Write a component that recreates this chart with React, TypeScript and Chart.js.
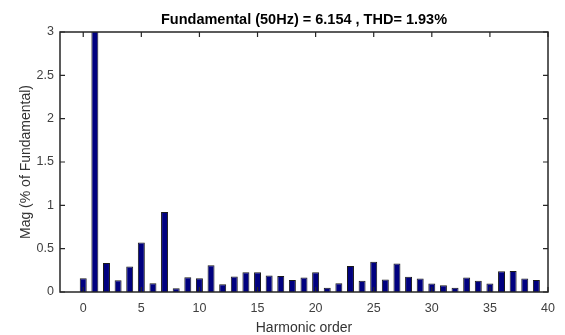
import React, { useEffect, useRef } from "react";
import { Chart, registerables } from "chart.js";

Chart.register(...registerables);

// Harmonic spectrum, magnitudes in % of the fundamental
const TITLE = "Fundamental (50Hz) = 6.154 , THD= 1.93%";
const X_LABEL = "Harmonic order";
const Y_LABEL = "Mag (% of Fundamental)";

const harmonicOrders = [
  0, 1, 2, 3, 4, 5, 6, 7, 8, 9,
  10, 11, 12, 13, 14, 15, 16, 17, 18, 19,
  20, 21, 22, 23, 24, 25, 26, 27, 28, 29,
  30, 31, 32, 33, 34, 35, 36, 37, 38, 39,
];

const magnitudes = [
  0.16, 100, 0.335, 0.135, 0.293, 0.57, 0.1, 0.923, 0.043, 0.17,
  0.16, 0.31, 0.09, 0.18, 0.227, 0.227, 0.19, 0.185, 0.138, 0.166,
  0.227, 0.05, 0.1, 0.3, 0.13, 0.35, 0.143, 0.33, 0.177, 0.155,
  0.097, 0.077, 0.05, 0.166, 0.13, 0.097, 0.24, 0.243, 0.155, 0.138,
];

const xTicks = [0, 5, 10, 15, 20, 25, 30, 35, 40];
const yTicks = [0, 0.5, 1, 1.5, 2, 2.5, 3];

const FONT = "'Liberation Sans', Arial, Helvetica, sans-serif";
const AXIS_COLOR = "#262626";

// Box around the axes with inward tick marks on all four sides
const framePlugin = {
  id: "frame",
  afterDatasetsDraw(chart: any) {
    const { ctx, chartArea, scales } = chart;
    const { left, right, top, bottom } = chartArea;
    const x = scales.x;
    const y = scales.y;
    ctx.save();
    ctx.strokeStyle = AXIS_COLOR;
    ctx.lineWidth = 1.5;
    ctx.strokeRect(left, top, right - left, bottom - top);
    ctx.lineWidth = 1.2;
    ctx.beginPath();
    const len = 5;
    x.ticks.forEach((t: any) => {
      const px = x.getPixelForValue(t.value);
      ctx.moveTo(px, bottom);
      ctx.lineTo(px, bottom - len);
      ctx.moveTo(px, top);
      ctx.lineTo(px, top + len);
    });
    y.ticks.forEach((t: any) => {
      const py = y.getPixelForValue(t.value);
      ctx.moveTo(left, py);
      ctx.lineTo(left + len, py);
      ctx.moveTo(right, py);
      ctx.lineTo(right - len, py);
    });
    ctx.stroke();
    ctx.restore();
  },
};

export default function App() {
  const canvasRef = useRef<HTMLCanvasElement | null>(null);

  useEffect(() => {
    const canvas = canvasRef.current;
    if (!canvas) return;
    const points = harmonicOrders.map((h, i) => ({ x: h, y: magnitudes[i] }));

    const chart = new Chart(canvas, {
      type: "bar",
      data: {
        datasets: [
          {
            data: points as any,
            backgroundColor: "#00007f",
            borderColor: "#1a1a1a",
            borderWidth: 1,
            barPercentage: 0.6,
            categoryPercentage: 1,
          },
        ],
      },
      options: {
        animation: false,
        responsive: false,
        devicePixelRatio: 1,
        layout: { padding: { left: 0, right: 17, top: 0, bottom: 0 } },
        plugins: {
          legend: { display: false },
          tooltip: { enabled: false },
          title: {
            display: true,
            fullSize: false,
            text: TITLE,
            color: "#000000",
            font: { family: FONT, size: 14.5, weight: "bold" },
            padding: { top: 11, bottom: 3.6 },
          },
        },
        scales: {
          x: {
            type: "linear",
            min: -2,
            max: 40,
            offset: false,
            grid: { display: false, drawTicks: false },
            border: { display: false },
            afterBuildTicks: (scale: any) => {
              scale.ticks = xTicks.map((v) => ({ value: v }));
            },
            afterFit: (scale: any) => {
              scale.height = 43;
            },
            ticks: {
              color: "#404040",
              font: { family: FONT, size: 12.5 },
              padding: 9.5,
              maxRotation: 0,
              autoSkip: false,
              callback: (v: any) => String(v),
            },
            title: {
              display: true,
              text: X_LABEL,
              color: "#333333",
              font: { family: FONT, size: 14 },
              padding: { top: 0, bottom: -1.5 },
            },
          },
          y: {
            type: "linear",
            min: 0,
            max: 3,
            grid: { display: false, drawTicks: false },
            border: { display: false },
            afterBuildTicks: (scale: any) => {
              scale.ticks = yTicks.map((v) => ({ value: v }));
            },
            afterFit: (scale: any) => {
              scale.width = 60;
            },
            ticks: {
              color: "#404040",
              font: { family: FONT, size: 12.5 },
              padding: 6,
              autoSkip: false,
              callback: (v: any) => String(v),
            },
            title: {
              display: true,
              text: Y_LABEL,
              color: "#333333",
              font: { family: FONT, size: 14 },
              padding: { top: 17.5, bottom: 0 },
            },
          },
        },
      },
      plugins: [framePlugin],
    });

    return () => chart.destroy();
  }, []);

  return (
    <div
      style={{
        position: "fixed",
        left: 0,
        top: 0,
        width: 565,
        height: 335,
        background: "#ffffff",
      }}
    >
      <canvas ref={canvasRef} width={565} height={335} />
    </div>
  );
}
